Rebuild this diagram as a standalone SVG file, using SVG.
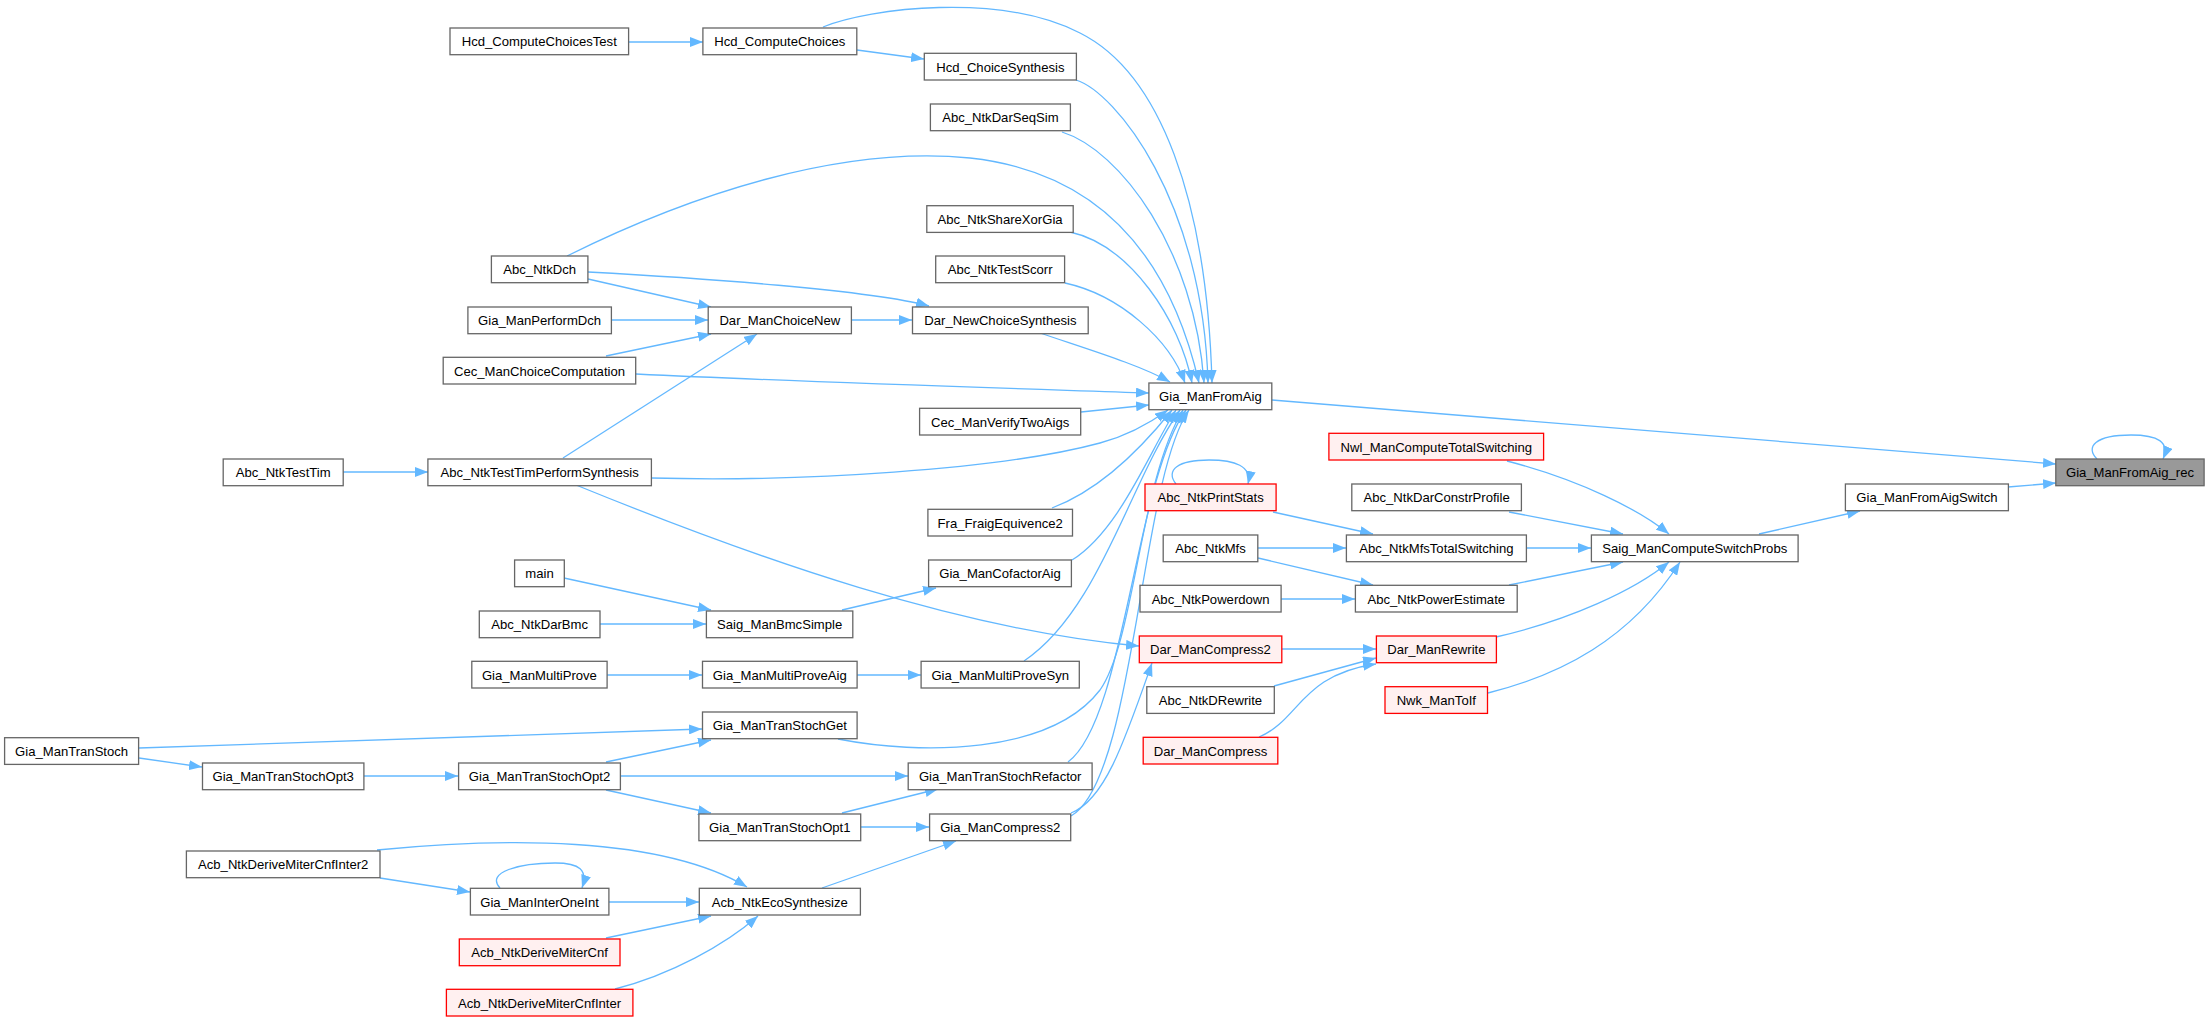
<svg xmlns="http://www.w3.org/2000/svg" width="2209" height="1021" viewBox="0 0 2209 1021">
<style>
.node rect{fill:#fff;stroke:#666;stroke-width:1.3}
.red rect{fill:#fff0f0;stroke:#f00}
.focus rect{fill:#999;stroke:#666}
.node text{font-family:"Liberation Sans",Arial,sans-serif;font-size:13.1px;text-anchor:middle;fill:#000}
.edges path{fill:none;stroke:#63b8ff;stroke-width:1.3;marker-end:url(#ah)}
</style>
<defs>
<marker id="ah" markerUnits="userSpaceOnUse" markerWidth="13" markerHeight="10" refX="13" refY="5" orient="auto">
<path d="M0,0 L13,5 L0,10 z" fill="#63b8ff"/>
</marker>
</defs>
<rect width="2209" height="1021" fill="#fff"/>
<g class="edges">
<path d="M629,42 L703,42"/>
<path d="M857,50 L924,59"/>
<path d="M823,27 C870,8 1000,-8 1080,33 C1160,73 1207,200 1212,383"/>
<path d="M1076,80 C1115,92 1203,200 1208,383"/>
<path d="M1062,132 C1120,150 1195,250 1204,383"/>
<path d="M567,256 C690,195 840,145 970,158 C1080,170 1165,235 1199,383"/>
<path d="M1070,232 C1130,245 1180,320 1192,383"/>
<path d="M1065,283 C1120,295 1170,340 1185,383"/>
<path d="M1040,333 C1090,350 1140,365 1170,382"/>
<path d="M636,374 C800,382 1000,388 1149,393"/>
<path d="M1081,412 L1149,405"/>
<path d="M651,478 C800,482 1000,470 1100,443 C1130,435 1150,423 1168,410"/>
<path d="M1052,508 C1100,490 1140,450 1172,410"/>
<path d="M1072,560 C1120,530 1150,450 1176,410"/>
<path d="M1024,661 C1100,610 1130,480 1180,410"/>
<path d="M838,739 C920,755 1050,755 1100,690 C1135,640 1140,480 1183,410"/>
<path d="M1068,762 C1125,720 1135,480 1186,410"/>
<path d="M1071,816 C1135,780 1140,480 1189,410"/>
<path d="M1071,813 C1105,800 1125,740 1152,663"/>
<path d="M576,485 C760,560 960,630 1139,646"/>
<path d="M1272,400 L2056,464"/>
<path d="M2008,487 L2056,483"/>
<path d="M2097,459 C2085,447 2095,435 2131,435 C2158,435 2170,442 2163,459"/>
<path d="M1759,534 L1860,511"/>
<path d="M1507,461 C1580,480 1640,510 1669,534"/>
<path d="M1509,512 L1623,534"/>
<path d="M1526,548 L1591,548"/>
<path d="M1509,585 L1623,562"/>
<path d="M1496,637 C1570,620 1635,590 1669,562"/>
<path d="M1488,693 C1560,675 1630,640 1680,562"/>
<path d="M1273,512 L1373,534"/>
<path d="M1176,484 C1165,470 1178,460 1209,460 C1235,460 1252,466 1248,484"/>
<path d="M1258,548 L1346,548"/>
<path d="M1258,558 L1373,585"/>
<path d="M1281,599 L1355,599"/>
<path d="M1282,649 L1376,649"/>
<path d="M1274,686 L1376,658"/>
<path d="M1259,737 C1300,720 1300,675 1376,664"/>
<path d="M588,279 L711,307"/>
<path d="M588,272 C700,278 870,290 929,306"/>
<path d="M611,320 L708,320"/>
<path d="M606,356 L711,334"/>
<path d="M563,458 L757,334"/>
<path d="M851,320 L912,320"/>
<path d="M343,472 L428,472"/>
<path d="M564,578 L711,610"/>
<path d="M600,624 L706,624"/>
<path d="M842,610 L936,588"/>
<path d="M607,675 L702,675"/>
<path d="M857,675 L921,675"/>
<path d="M139,748 L702,729"/>
<path d="M139,758 L202,767"/>
<path d="M364,776 L458,776"/>
<path d="M606,762 L711,740"/>
<path d="M620,776 L908,776"/>
<path d="M606,790 L711,813"/>
<path d="M842,813 L938,789"/>
<path d="M861,827 L929,827"/>
<path d="M822,888 L956,841"/>
<path d="M377,850 C500,838 660,835 747,887"/>
<path d="M380,878 L470,892"/>
<path d="M500,888 C485,872 520,863 555,863 C580,863 588,870 582,888"/>
<path d="M609,902 L699,902"/>
<path d="M606,938 L711,916"/>
<path d="M615,989 C670,975 725,945 758,916"/>
</g>
<g id="n1" class="node"><rect x="450" y="28" width="178.6" height="26.7"/><text x="539.3" y="46.3">Hcd_ComputeChoicesTest</text></g>
<g id="n2" class="node"><rect x="702.9" y="28" width="153.9" height="26.7"/><text x="779.8" y="46.3">Hcd_ComputeChoices</text></g>
<g id="n3" class="node"><rect x="924.3" y="53.3" width="152.1" height="26.7"/><text x="1000.4" y="71.6">Hcd_ChoiceSynthesis</text></g>
<g id="n4" class="node"><rect x="930.4" y="104" width="140" height="26.7"/><text x="1000.4" y="122.3">Abc_NtkDarSeqSim</text></g>
<g id="n5" class="node"><rect x="926.8" y="205.7" width="146.4" height="26.7"/><text x="1000" y="224">Abc_NtkShareXorGia</text></g>
<g id="n6" class="node"><rect x="935.7" y="256" width="128.9" height="26.7"/><text x="1000.2" y="274.3">Abc_NtkTestScorr</text></g>
<g id="n7" class="node"><rect x="491.4" y="256" width="96.5" height="26.7"/><text x="539.7" y="274.3">Abc_NtkDch</text></g>
<g id="n8" class="node"><rect x="467.9" y="307" width="143.5" height="26.7"/><text x="539.6" y="325.3">Gia_ManPerformDch</text></g>
<g id="n9" class="node"><rect x="708.2" y="307" width="143.2" height="26.7"/><text x="779.8" y="325.3">Dar_ManChoiceNew</text></g>
<g id="n10" class="node"><rect x="912.5" y="307" width="175.7" height="26.7"/><text x="1000.4" y="325.3">Dar_NewChoiceSynthesis</text></g>
<g id="n11" class="node"><rect x="443.2" y="357.3" width="192.5" height="26.7"/><text x="539.5" y="375.6">Cec_ManChoiceComputation</text></g>
<g id="n12" class="node"><rect x="1148.9" y="383" width="122.9" height="26.7"/><text x="1210.4" y="401.3">Gia_ManFromAig</text></g>
<g id="n13" class="node"><rect x="919.6" y="408.3" width="161.1" height="26.7"/><text x="1000.2" y="426.6">Cec_ManVerifyTwoAigs</text></g>
<g id="n14" class="node"><rect x="223.2" y="459" width="120" height="26.7"/><text x="283.2" y="477.3">Abc_NtkTestTim</text></g>
<g id="n15" class="node"><rect x="427.9" y="459" width="223.5" height="26.7"/><text x="539.7" y="477.3">Abc_NtkTestTimPerformSynthesis</text></g>
<g id="n16" class="node red"><rect x="1328.9" y="433.3" width="214.7" height="26.7"/><text x="1436.3" y="451.6">Nwl_ManComputeTotalSwitching</text></g>
<g id="n17" class="node focus"><rect x="2055.8" y="459" width="148.3" height="26.7"/><text x="2130" y="477.3">Gia_ManFromAig_rec</text></g>
<g id="n18" class="node red"><rect x="1145" y="484" width="131.1" height="26.7"/><text x="1210.6" y="502.3">Abc_NtkPrintStats</text></g>
<g id="n19" class="node"><rect x="1351.8" y="484" width="169.6" height="26.7"/><text x="1436.6" y="502.3">Abc_NtkDarConstrProfile</text></g>
<g id="n20" class="node"><rect x="1845.4" y="484" width="163" height="26.7"/><text x="1926.9" y="502.3">Gia_ManFromAigSwitch</text></g>
<g id="n21" class="node"><rect x="927.9" y="509.3" width="144.6" height="26.7"/><text x="1000.2" y="527.6">Fra_FraigEquivence2</text></g>
<g id="n22" class="node"><rect x="1163.2" y="535" width="94.6" height="26.7"/><text x="1210.5" y="553.3">Abc_NtkMfs</text></g>
<g id="n23" class="node"><rect x="1346.4" y="535" width="180" height="26.7"/><text x="1436.4" y="553.3">Abc_NtkMfsTotalSwitching</text></g>
<g id="n24" class="node"><rect x="1591.4" y="535" width="206.7" height="26.7"/><text x="1694.8" y="553.3">Saig_ManComputeSwitchProbs</text></g>
<g id="n25" class="node"><rect x="514.6" y="560" width="49.7" height="26.7"/><text x="539.5" y="578.3">main</text></g>
<g id="n26" class="node"><rect x="928.6" y="560" width="142.8" height="26.7"/><text x="1000" y="578.3">Gia_ManCofactorAig</text></g>
<g id="n27" class="node"><rect x="1140" y="585.3" width="141.1" height="26.7"/><text x="1210.6" y="603.6">Abc_NtkPowerdown</text></g>
<g id="n28" class="node"><rect x="1355.4" y="585.3" width="161.8" height="26.7"/><text x="1436.3" y="603.6">Abc_NtkPowerEstimate</text></g>
<g id="n29" class="node"><rect x="479.3" y="611" width="120.7" height="26.7"/><text x="539.6" y="629.3">Abc_NtkDarBmc</text></g>
<g id="n30" class="node"><rect x="706.4" y="611" width="146.4" height="26.7"/><text x="779.6" y="629.3">Saig_ManBmcSimple</text></g>
<g id="n31" class="node red"><rect x="1139.3" y="636" width="142.5" height="26.7"/><text x="1210.5" y="654.3">Dar_ManCompress2</text></g>
<g id="n32" class="node red"><rect x="1376.4" y="636" width="120" height="26.7"/><text x="1436.4" y="654.3">Dar_ManRewrite</text></g>
<g id="n33" class="node"><rect x="471.8" y="661.3" width="135.3" height="26.7"/><text x="539.4" y="679.6">Gia_ManMultiProve</text></g>
<g id="n34" class="node"><rect x="702.5" y="661.3" width="154.6" height="26.7"/><text x="779.8" y="679.6">Gia_ManMultiProveAig</text></g>
<g id="n35" class="node"><rect x="921.1" y="661.3" width="158.2" height="26.7"/><text x="1000.2" y="679.6">Gia_ManMultiProveSyn</text></g>
<g id="n36" class="node"><rect x="1146.8" y="686.7" width="127.5" height="26.7"/><text x="1210.5" y="705">Abc_NtkDRewrite</text></g>
<g id="n37" class="node red"><rect x="1385" y="686.7" width="102.5" height="26.7"/><text x="1436.3" y="705">Nwk_ManToIf</text></g>
<g id="n38" class="node"><rect x="4.6" y="737.7" width="134" height="26.7"/><text x="71.6" y="756">Gia_ManTranStoch</text></g>
<g id="n39" class="node"><rect x="702.5" y="712" width="154.6" height="26.7"/><text x="779.8" y="730.3">Gia_ManTranStochGet</text></g>
<g id="n40" class="node red"><rect x="1143.2" y="737.3" width="134.6" height="26.7"/><text x="1210.5" y="755.6">Dar_ManCompress</text></g>
<g id="n41" class="node"><rect x="202.5" y="763" width="161.4" height="26.7"/><text x="283.2" y="781.3">Gia_ManTranStochOpt3</text></g>
<g id="n42" class="node"><rect x="458.6" y="763" width="161.8" height="26.7"/><text x="539.5" y="781.3">Gia_ManTranStochOpt2</text></g>
<g id="n43" class="node"><rect x="908.2" y="763" width="183.9" height="26.7"/><text x="1000.2" y="781.3">Gia_ManTranStochRefactor</text></g>
<g id="n44" class="node"><rect x="698.9" y="814" width="161.8" height="26.7"/><text x="779.8" y="832.3">Gia_ManTranStochOpt1</text></g>
<g id="n45" class="node"><rect x="929.6" y="814" width="141.1" height="26.7"/><text x="1000.2" y="832.3">Gia_ManCompress2</text></g>
<g id="n46" class="node"><rect x="186.4" y="851" width="193.6" height="26.7"/><text x="283.2" y="869.3">Acb_NtkDeriveMiterCnfInter2</text></g>
<g id="n47" class="node"><rect x="470.4" y="888.3" width="138.5" height="26.7"/><text x="539.6" y="906.6">Gia_ManInterOneInt</text></g>
<g id="n48" class="node"><rect x="699.3" y="888.3" width="161.1" height="26.7"/><text x="779.8" y="906.6">Acb_NtkEcoSynthesize</text></g>
<g id="n49" class="node red"><rect x="459.3" y="939" width="160.7" height="26.7"/><text x="539.6" y="957.3">Acb_NtkDeriveMiterCnf</text></g>
<g id="n50" class="node red"><rect x="446.4" y="989.3" width="186.5" height="26.7"/><text x="539.6" y="1007.6">Acb_NtkDeriveMiterCnfInter</text></g>
</svg>
